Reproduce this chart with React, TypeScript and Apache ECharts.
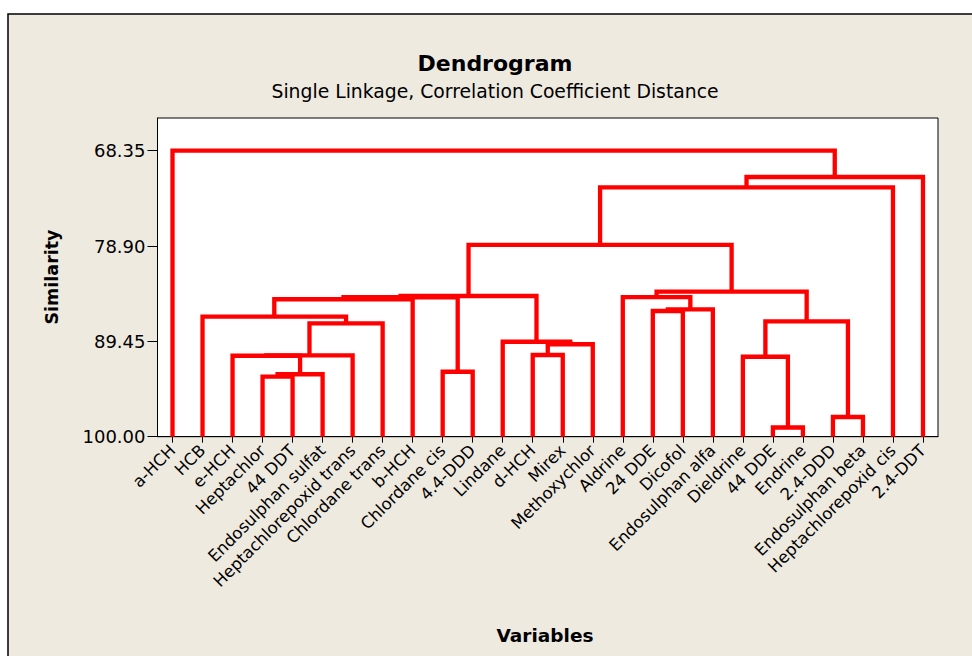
import React, { useEffect, useRef } from "react";
import * as echarts from "echarts";

// Leaves (variables) in dendrogram order
const leaves = [
  "a-HCH", "HCB", "e-HCH", "Heptachlor", "44 DDT", "Endosulphan sulfat",
  "Heptachlorepoxid trans", "Chlordane trans", "b-HCH", "Chlordane cis",
  "4.4-DDD", "Lindane", "d-HCH", "Mirex", "Methoxychlor", "Aldrine",
  "24 DDE", "Dicofol", "Endosulphan alfa", "Dieldrine", "44 DDE", "Endrine",
  "2.4-DDD", "Endosulphan beta", "Heptachlorepoxid cis", "2.4-DDT",
];

// Merge steps: node ids < 26 are leaves, merge k creates node 26 + k
const mergeLeft = [3, 26, 2, 28, 29, 1, 31, 9, 32, 12, 35, 11, 34, 16, 39, 15, 20, 19, 22, 43, 41, 38, 47, 48, 0];
const mergeRight = [4, 5, 27, 6, 7, 30, 8, 10, 33, 13, 14, 36, 37, 17, 18, 40, 21, 42, 23, 44, 45, 46, 24, 25, 49];
const mergeSimilarity = [
  93.36, 93.09, 91.04, 91.01, 87.45, 86.72, 84.79, 92.81, 84.57, 90.96,
  89.77, 89.49, 84.43, 86.09, 85.9, 84.55, 98.98, 91.15, 97.82, 87.23,
  83.95, 78.78, 72.4, 71.26, 68.35,
];

const yTicks = [68.35, 78.9, 89.45, 100.0];
const yMin = 64.73;
const yMax = 100;

function buildLinks() {
  const pos: number[] = leaves.map((_, i) => i);
  const height: number[] = leaves.map(() => 100);
  const links: number[][] = [];
  mergeLeft.forEach((l, k) => {
    const r = mergeRight[k];
    const id = leaves.length + k;
    pos[id] = (pos[l] + pos[r]) / 2;
    height[id] = mergeSimilarity[k];
    links.push([pos[l], height[l], pos[r], height[r], mergeSimilarity[k]]);
  });
  return links;
}

export default function App() {
  const ref = useRef<HTMLDivElement>(null);
  useEffect(() => {
    if (!ref.current) return;
    const chart = echarts.init(ref.current, undefined, { renderer: "svg" });
    const links = buildLinks();
    const font = "DejaVu Sans";
    chart.setOption({
      animation: false,
      backgroundColor: "#ffffff",
      textStyle: { fontFamily: font },
      graphic: [
        {
          type: "rect",
          z: -10,
          silent: true,
          shape: { x: 8, y: 14, width: 1000, height: 700 },
          style: { fill: "#EEEAE0", stroke: "#000000", lineWidth: 1.5 },
        },
        {
          type: "text",
          x: 495,
          y: 63,
          style: {
            text: "Dendrogram",
            font: `bold 22px "${font}"`,
            fill: "#000",
            textAlign: "center",
            textVerticalAlign: "middle",
          },
        },
        {
          type: "text",
          x: 495,
          y: 91,
          style: {
            text: "Single Linkage, Correlation Coefficient Distance",
            font: `18.8px "${font}"`,
            fill: "#000",
            textAlign: "center",
            textVerticalAlign: "middle",
          },
        },
        {
          type: "text",
          x: 545,
          y: 635,
          style: {
            text: "Variables",
            font: `bold 18.5px "${font}"`,
            fill: "#000",
            textAlign: "center",
            textVerticalAlign: "middle",
          },
        },
        {
          type: "text",
          x: 52,
          y: 277,
          rotation: Math.PI / 2,
          style: {
            text: "Similarity",
            font: `bold 17.5px "${font}"`,
            fill: "#000",
            textAlign: "center",
            textVerticalAlign: "middle",
          },
        },
      ],
      grid: {
        left: 157.5,
        top: 118,
        width: 780.5,
        height: 318.7,
        show: true,
        backgroundColor: "#ffffff",
        borderColor: "#000000",
        borderWidth: 1,
        outerBoundsMode: "none",
      },
      xAxis: [
        {
          type: "category",
          data: leaves,
          boundaryGap: true,
          axisLine: { show: true, onZero: false, lineStyle: { color: "#000", width: 1 } },
          axisTick: { show: true, alignWithLabel: true, length: 6, lineStyle: { color: "#000" } },
          axisLabel: {
            rotate: 45,
            interval: 0,
            margin: 11,
            color: "#000",
            fontFamily: font,
            fontSize: 16.5,
          },
          splitLine: { show: false },
        },
        {
          type: "value",
          min: -0.5,
          max: leaves.length - 0.5,
          show: false,
        },
      ],
      yAxis: {
        type: "value",
        inverse: true,
        min: yMin,
        max: yMax,
        axisLine: { show: true, onZero: false, lineStyle: { color: "#000", width: 1 } },
        axisTick: {
          show: true,
          length: 10,
          customValues: yTicks,
          lineStyle: { color: "#000" },
        },
        axisLabel: {
          customValues: yTicks,
          formatter: (v: number) => v.toFixed(2),
          margin: 12,
          color: "#000",
          fontFamily: font,
          fontSize: 18,
        },
        splitLine: { show: false },
      },
      series: [
        {
          type: "custom",
          xAxisIndex: 1,
          yAxisIndex: 0,
          data: links,
          encode: { x: [0, 2], y: [1, 3, 4] },
          renderItem: (params: any, api: any) => {
            const a = api.coord([api.value(0), api.value(1)]);
            const b = api.coord([api.value(0), api.value(4)]);
            const c = api.coord([api.value(2), api.value(4)]);
            const d = api.coord([api.value(2), api.value(3)]);
            return {
              type: "polyline",
              shape: { points: [a, b, c, d] },
              style: { stroke: "#FF0000", lineWidth: 4.3, fill: "none", lineJoin: "miter" },
            };
          },
        },
      ],
    });
    return () => chart.dispose();
  }, []);
  return (
    <div
      ref={ref}
      style={{ position: "fixed", left: 0, top: 0, width: 972, height: 656 }}
    />
  );
}
